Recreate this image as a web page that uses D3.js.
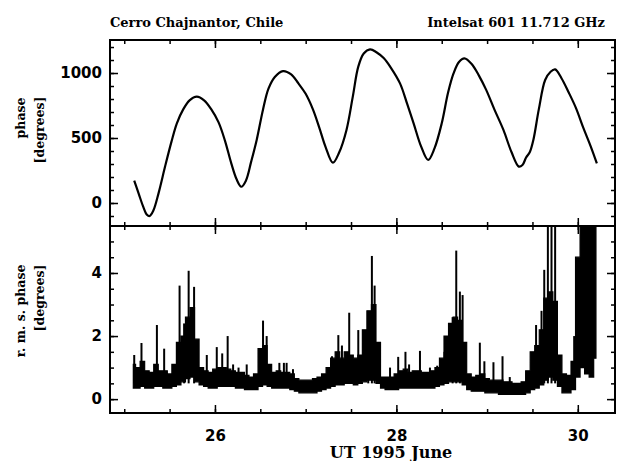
<!DOCTYPE html>
<html>
<head>
<meta charset="utf-8">
<script src="https://cdn.jsdelivr.net/npm/d3@7"></script>
<style>
  body { margin: 0; background: #fff; }
  svg { display: block; }
  .tick text { font-family: "DejaVu Sans", sans-serif; font-weight: bold; font-size: 15px; fill: #000; }
  .tick line { stroke: #000; stroke-width: 1.5; }
  .lbl { font-family: "DejaVu Serif", serif; font-weight: bold; fill: #000; }
</style>
</head>
<body>
<div id="app"></div>
<script>
// phase vs time (UT day of 1995 June)
const phaseDay = [25.11, 25.16, 25.21, 25.25, 25.28, 25.32, 25.38, 25.45, 25.52, 25.58, 25.65, 25.72, 25.80, 25.88, 25.96,
  26.04, 26.11, 26.18, 26.24, 26.29, 26.34, 26.40, 26.46, 26.53, 26.59, 26.66, 26.75, 26.84, 26.92, 27.00, 27.08, 27.15,
  27.22, 27.30, 27.37, 27.45, 27.52, 27.58, 27.64, 27.71, 27.78, 27.86, 27.94, 28.04, 28.12, 28.19, 28.27, 28.35, 28.42,
  28.50, 28.57, 28.63, 28.69, 28.75, 28.83, 28.91, 28.99, 29.08, 29.18, 29.27, 29.35, 29.39, 29.43, 29.47, 29.51, 29.57,
  29.64, 29.70, 29.75, 29.82, 29.90, 29.98, 30.06, 30.14, 30.21];
const phaseVal = [172, 70, -30, -90, -100, -60, 80, 280, 470, 613, 720, 790, 818, 790, 720,
  620, 480, 305, 180, 125, 170, 320, 485, 720, 880, 970, 1015, 990, 920, 840, 720, 580,
  430, 310, 390, 562, 820, 1049, 1150, 1182, 1160, 1115, 1040, 920, 760, 613, 440, 331, 420,
  613, 850, 997, 1085, 1113, 1070, 980, 870, 720, 562, 390, 280, 292, 350, 390, 485, 720,
  946, 1010, 1028, 960, 850, 730, 580, 440, 305];

// r.m.s. phase: lower / upper envelope of the dense trace, every 0.05 day
const rmsDay = d3.range(0, 103).map(i => +(25.10 + i * 0.05).toFixed(2));
const rmsLow = [0.35, 0.35, 0.40, 0.35, 0.35, 0.40, 0.40, 0.35, 0.35, 0.40,
  0.45, 0.55, 0.65, 0.70, 0.55, 0.45, 0.40, 0.35, 0.35, 0.40,
  0.40, 0.40, 0.40, 0.35, 0.35, 0.30, 0.30, 0.30, 0.40, 0.45,
  0.40, 0.35, 0.35, 0.35, 0.35, 0.30, 0.25, 0.20, 0.20, 0.20,
  0.20, 0.25, 0.30, 0.35, 0.40, 0.45, 0.45, 0.50, 0.50, 0.45,
  0.50, 0.55, 0.60, 0.60, 0.50, 0.35, 0.30, 0.30, 0.30, 0.35,
  0.35, 0.35, 0.35, 0.35, 0.35, 0.35, 0.35, 0.40, 0.45, 0.50,
  0.55, 0.55, 0.55, 0.45, 0.30, 0.25, 0.25, 0.25, 0.20, 0.20,
  0.20, 0.15, 0.15, 0.15, 0.15, 0.15, 0.15, 0.20, 0.30, 0.35,
  0.45, 0.60, 0.70, 0.60, 0.40, 0.20, 0.20, 0.30, 0.70, 1.00,
  0.80, 0.70, 1.30];
const rmsHigh = [1.10, 1.00, 1.20, 0.90, 0.85, 1.10, 0.90, 0.90, 0.80, 1.10,
  1.80, 2.00, 2.60, 2.90, 1.90, 1.00, 0.90, 0.85, 0.95, 1.00,
  1.00, 0.95, 0.90, 0.85, 0.85, 0.75, 0.70, 0.80, 1.60, 1.70,
  1.10, 0.85, 0.90, 0.85, 0.85, 0.80, 0.65, 0.60, 0.60, 0.60,
  0.65, 0.70, 0.80, 1.00, 1.30, 1.50, 1.30, 1.50, 1.40, 1.30,
  1.40, 2.20, 2.80, 3.00, 1.80, 0.70, 0.70, 0.70, 0.80, 0.90,
  0.95, 0.85, 0.90, 0.90, 0.85, 0.85, 0.90, 1.00, 1.30, 2.00,
  2.40, 2.60, 2.50, 1.80, 0.80, 0.70, 0.75, 0.80, 0.65, 0.60,
  0.60, 0.60, 0.55, 0.55, 0.50, 0.50, 0.55, 0.90, 1.50, 1.70,
  2.20, 3.20, 3.40, 3.10, 1.40, 0.80, 0.75, 1.20, 4.50, 5.60,
  5.60, 5.60, 5.60];

// isolated spikes above the envelope
const spikeDay = [25.11, 25.19, 25.36, 25.44, 25.61, 25.66, 25.71, 25.77, 25.91, 26.02, 26.08, 26.14, 26.20, 26.26,
  26.35, 26.53, 26.57, 26.71, 26.76, 26.79, 26.86, 27.29, 27.36, 27.40, 27.48, 27.58, 27.69, 27.73, 27.76, 27.93,
  28.02, 28.10, 28.14, 28.26, 28.37, 28.45, 28.53, 28.62, 28.66, 28.70, 28.73, 28.92, 28.97, 29.07, 29.17, 29.25,
  29.54, 29.60, 29.63, 29.67, 29.71, 29.75, 29.96];
const spikeVal = [1.4, 1.78, 2.35, 1.6, 3.6, 2.4, 4.07, 3.56, 1.4, 1.65, 1.45, 2.0, 1.1, 1.0,
  1.1, 2.49, 2.0, 1.15, 1.15, 1.15, 0.95, 1.36, 2.03, 1.7, 2.74, 2.19, 2.8, 4.54, 3.6, 1.0,
  1.34, 1.5, 1.1, 1.53, 1.0, 1.06, 1.5, 2.6, 4.71, 3.41, 3.3, 1.79, 1.2, 1.17, 1.36, 0.7,
  2.35, 2.8, 4.1, 5.6, 5.6, 5.6, 2.0];

const dayMajor = [26, 28, 30];
const dayMinor = d3.range(25, 30.51, 0.5);
const phaseMajor = [0, 500, 1000];
const phaseMinor = d3.range(-100, 1201, 100);
const rmsMajor = [0, 2, 4];
const rmsMinor = d3.range(0, 5.01, 0.5);

const width = 621, height = 461;
const left = 110, right = 615, top1 = 40, mid = 226, bottom = 413;

const svg = d3.select("#app").append("svg")
  .attr("width", width).attr("height", height);
svg.append("rect").attr("width", width).attr("height", height).attr("fill", "#fff");

const x = d3.scaleLinear().domain([24.843, 30.41]).range([left, right]);
const yP = d3.scaleLinear().domain([-177, 1254]).range([mid, top1]);
const yR = d3.scaleLinear().domain([-0.44, 5.49]).range([bottom, mid]);

const defs = svg.append("defs");
defs.append("clipPath").attr("id", "clipR").append("rect")
  .attr("x", left).attr("y", mid).attr("width", right - left).attr("height", bottom - mid);

// axes helper: inward ticks, major + minor
function ticks(g, axisFn, scale, vals, len, labels, pad) {
  g.call(axisFn(scale).tickValues(vals).tickSize(-len).tickPadding(pad || 8)
      .tickFormat(labels ? d3.format("d") : ""))
    .call(g => g.select(".domain").remove());
}

function panelAxes(y, yMajor, yMinor, y0, y1, xLabels) {
  const gl = svg.append("g").attr("transform", `translate(${left},0)`);
  ticks(gl.append("g"), d3.axisLeft, y, yMinor, 4, false);
  ticks(gl.append("g"), d3.axisLeft, y, yMajor, 8, true);
  const gr = svg.append("g").attr("transform", `translate(${right},0)`);
  ticks(gr.append("g"), d3.axisRight, y, yMinor, 4, false);
  ticks(gr.append("g"), d3.axisRight, y, yMajor, 8, false);
  const gt = svg.append("g").attr("transform", `translate(0,${y0})`);
  ticks(gt.append("g"), d3.axisTop, x, dayMinor, 4, false);
  ticks(gt.append("g"), d3.axisTop, x, dayMajor, 8, false);
  const gb = svg.append("g").attr("transform", `translate(0,${y1})`);
  ticks(gb.append("g"), d3.axisBottom, x, dayMinor, 4, false);
  ticks(gb.append("g"), d3.axisBottom, x, dayMajor, 8, xLabels, 17);
}

panelAxes(yP, phaseMajor, phaseMinor, top1, mid, false);
panelAxes(yR, rmsMajor, rmsMinor, mid, bottom, true);

// phase curve
const phaseData = phaseDay.map((d, i) => ({ d, v: phaseVal[i] }));
svg.append("path").datum(phaseData)
  .attr("fill", "none").attr("stroke", "#000").attr("stroke-width", 2.2)
  .attr("stroke-linejoin", "round")
  .attr("d", d3.line().x(p => x(p.d)).y(p => yP(p.v)).curve(d3.curveCatmullRom));

// r.m.s. phase trace
const gR = svg.append("g").attr("clip-path", "url(#clipR)");
const rmsData = rmsDay.map((d, i) => ({ d, lo: rmsLow[i], hi: rmsHigh[i] }));
gR.append("path").datum(rmsData)
  .attr("fill", "#000").attr("stroke", "#000").attr("stroke-width", 1.2)
  .attr("d", d3.area().x(p => x(p.d)).y0(p => yR(p.lo)).y1(p => yR(p.hi)).curve(d3.curveStep));
gR.selectAll("line.spike").data(spikeDay).join("line")
  .attr("class", "spike")
  .attr("x1", d => x(d)).attr("x2", d => x(d))
  .attr("y1", yR(0.5)).attr("y2", (d, i) => yR(spikeVal[i]))
  .attr("stroke", "#000").attr("stroke-width", 2);

// frames
[[top1, mid], [mid, bottom]].forEach(([a, b]) =>
  svg.append("rect").attr("x", left).attr("y", a).attr("width", right - left).attr("height", b - a)
    .attr("fill", "none").attr("stroke", "#000").attr("stroke-width", 2));

// titles and axis labels
svg.append("text").attr("class", "lbl").attr("x", left).attr("y", 27).attr("font-size", 13)
  .text("Cerro Chajnantor, Chile");
svg.append("text").attr("class", "lbl").attr("x", 605).attr("y", 27).attr("font-size", 13)
  .attr("text-anchor", "end").text("Intelsat 601 11.712 GHz");
svg.append("text").attr("class", "lbl").attr("x", 391).attr("y", 458).attr("font-size", 16)
  .attr("text-anchor", "middle").text("UT 1995 June");

function ylab(txt, cx, cy) {
  svg.append("text").attr("class", "lbl").attr("font-size", 12.5).attr("text-anchor", "middle")
    .attr("dominant-baseline", "central")
    .attr("transform", `translate(${cx},${cy}) rotate(-90)`).text(txt);
}
ylab("phase", 20, 118);
ylab("[degrees]", 39, 130);
ylab("r. m. s. phase", 20, 311);
ylab("[degrees]", 39, 298);
</script>
</body>
</html>
